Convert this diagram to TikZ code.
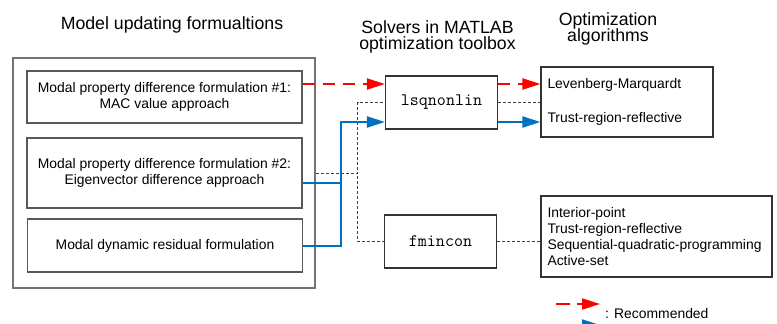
\documentclass[tikz,border=0pt]{standalone}
\usepackage{fontspec}
\setmainfont{Liberation Sans}
\usepackage{tikz}
\usetikzlibrary{arrows.meta}

\definecolor{recblue}{RGB}{0,112,192}
\newcommand{\bodyfont}{\fontsize{13.9}{16.3}\selectfont}
\newcommand{\titlefont}{\fontsize{17.7}{16.8}\selectfont}
\newcommand{\solverfont}{\ttfamily\fontsize{17.5}{18}\selectfont}

\begin{document}
\begin{tikzpicture}[x=1pt, y=-1pt,
		formbox/.style={draw=black!65, line width=1.2pt, minimum width=275pt, align=center, font=\bodyfont},
		solverbox/.style={draw=black!80, line width=1.2pt, minimum width=112pt, minimum height=53pt, font=\solverfont},
		algbox/.style={draw=black!80, line width=1.2pt, align=left, inner xsep=6.5pt, font=\bodyfont},
		heading/.style={align=center, font=\titlefont, inner sep=0pt},
		redarrow/.style={red, line width=2pt, dash pattern=on 12pt off 8pt, -{Triangle[length=18pt,width=11pt]}},
		bluearrow/.style={recblue, line width=2pt, -{Triangle[length=18pt,width=11pt]}},
		bluepath/.style={recblue, line width=2pt},
		thinpath/.style={black!75, line width=1pt, dash pattern=on 3pt off 2pt}]
		\useasboundingbox (0, 0) rectangle (777, 324);

		\node[heading, anchor=base] (t1) at (172, 29.3) {Model updating formualtions};
		\node[heading] (t2) at (437.5, 37) {Solvers in MATLAB\\optimization toolbox};
		\node[heading] (t3) at (608, 29) {Optimization\\algorithms};

		\node[draw=black!55, line width=1.5pt, minimum width=302pt, minimum height=230pt] (outer) at (164, 173) {};
		\node[formbox, minimum height=52pt] (f1) at (164.5, 97) {Modal property difference formulation \#1:\\MAC value approach};
		\node[formbox, minimum height=70pt] (f2) at (164.5, 173) {Modal property difference formulation \#2:\\Eigenvector difference approach};
		\node[formbox, minimum height=53pt] (f3) at (165, 245.5) {Modal dynamic residual formulation};

		\node[solverbox] (lsq) at (441.5, 102.5) {lsqnonlin};
		\node[solverbox] (fmin) at (440.5, 241.5) {fmincon};

		\node[algbox, text width=159pt, minimum height=70pt] (alg1) at (627, 102) {Levenberg-Marquardt\\[17pt]Trust-region-reflective};
		\node[algbox, text width=218pt, minimum height=81pt] (alg2) at (656.5, 236.5) {Interior-point\\Trust-region-reflective\\Sequential-quadratic-programming\\Active-set};

		\coordinate (r1) at ([yshift=18.5pt]lsq.west);
		\coordinate (r2) at ([yshift=18.5pt]lsq.east);
		\coordinate (b1) at ([yshift=-19.5pt]lsq.west);
		\coordinate (b2) at ([yshift=-19.5pt]lsq.east);

		\draw[thinpath] (outer.east) -- ++(42, 0) |- (lsq.west);
		\draw[thinpath] (outer.east) -- ++(42, 0) |- (fmin.west);
		\draw[thinpath] (lsq.east) -- (lsq.east -| alg1.west);
		\draw[thinpath] (fmin.east) -- (fmin.east -| alg2.west);

		\draw[redarrow] (r1 -| f1.east) -- (r1);
		\draw[redarrow] (r2) -- (r2 -| alg1.west);
		\draw[bluepath] ([yshift=-10pt]f2.east) -- ++(38, 0);
		\draw[bluearrow] (f3.east) -- ++(38, 0) |- (b1);
		\draw[bluearrow] (b2) -- (b2 -| alg1.west);

		\coordinate (lr0) at (556, 304);
		\coordinate (lr1) at (600, 304);
		\coordinate (lb0) at (556, 325);
		\coordinate (lb1) at (600, 325);
		\draw[redarrow, dash pattern=on 14pt off 7pt] (lr0) -- (lr1);
		\draw[bluearrow] (lb0) -- (lb1);
		\node[anchor=base west, font=\bodyfont, inner sep=0pt] (rec) at (605, 318) {: Recommended};
	\end{tikzpicture}
\end{document}
